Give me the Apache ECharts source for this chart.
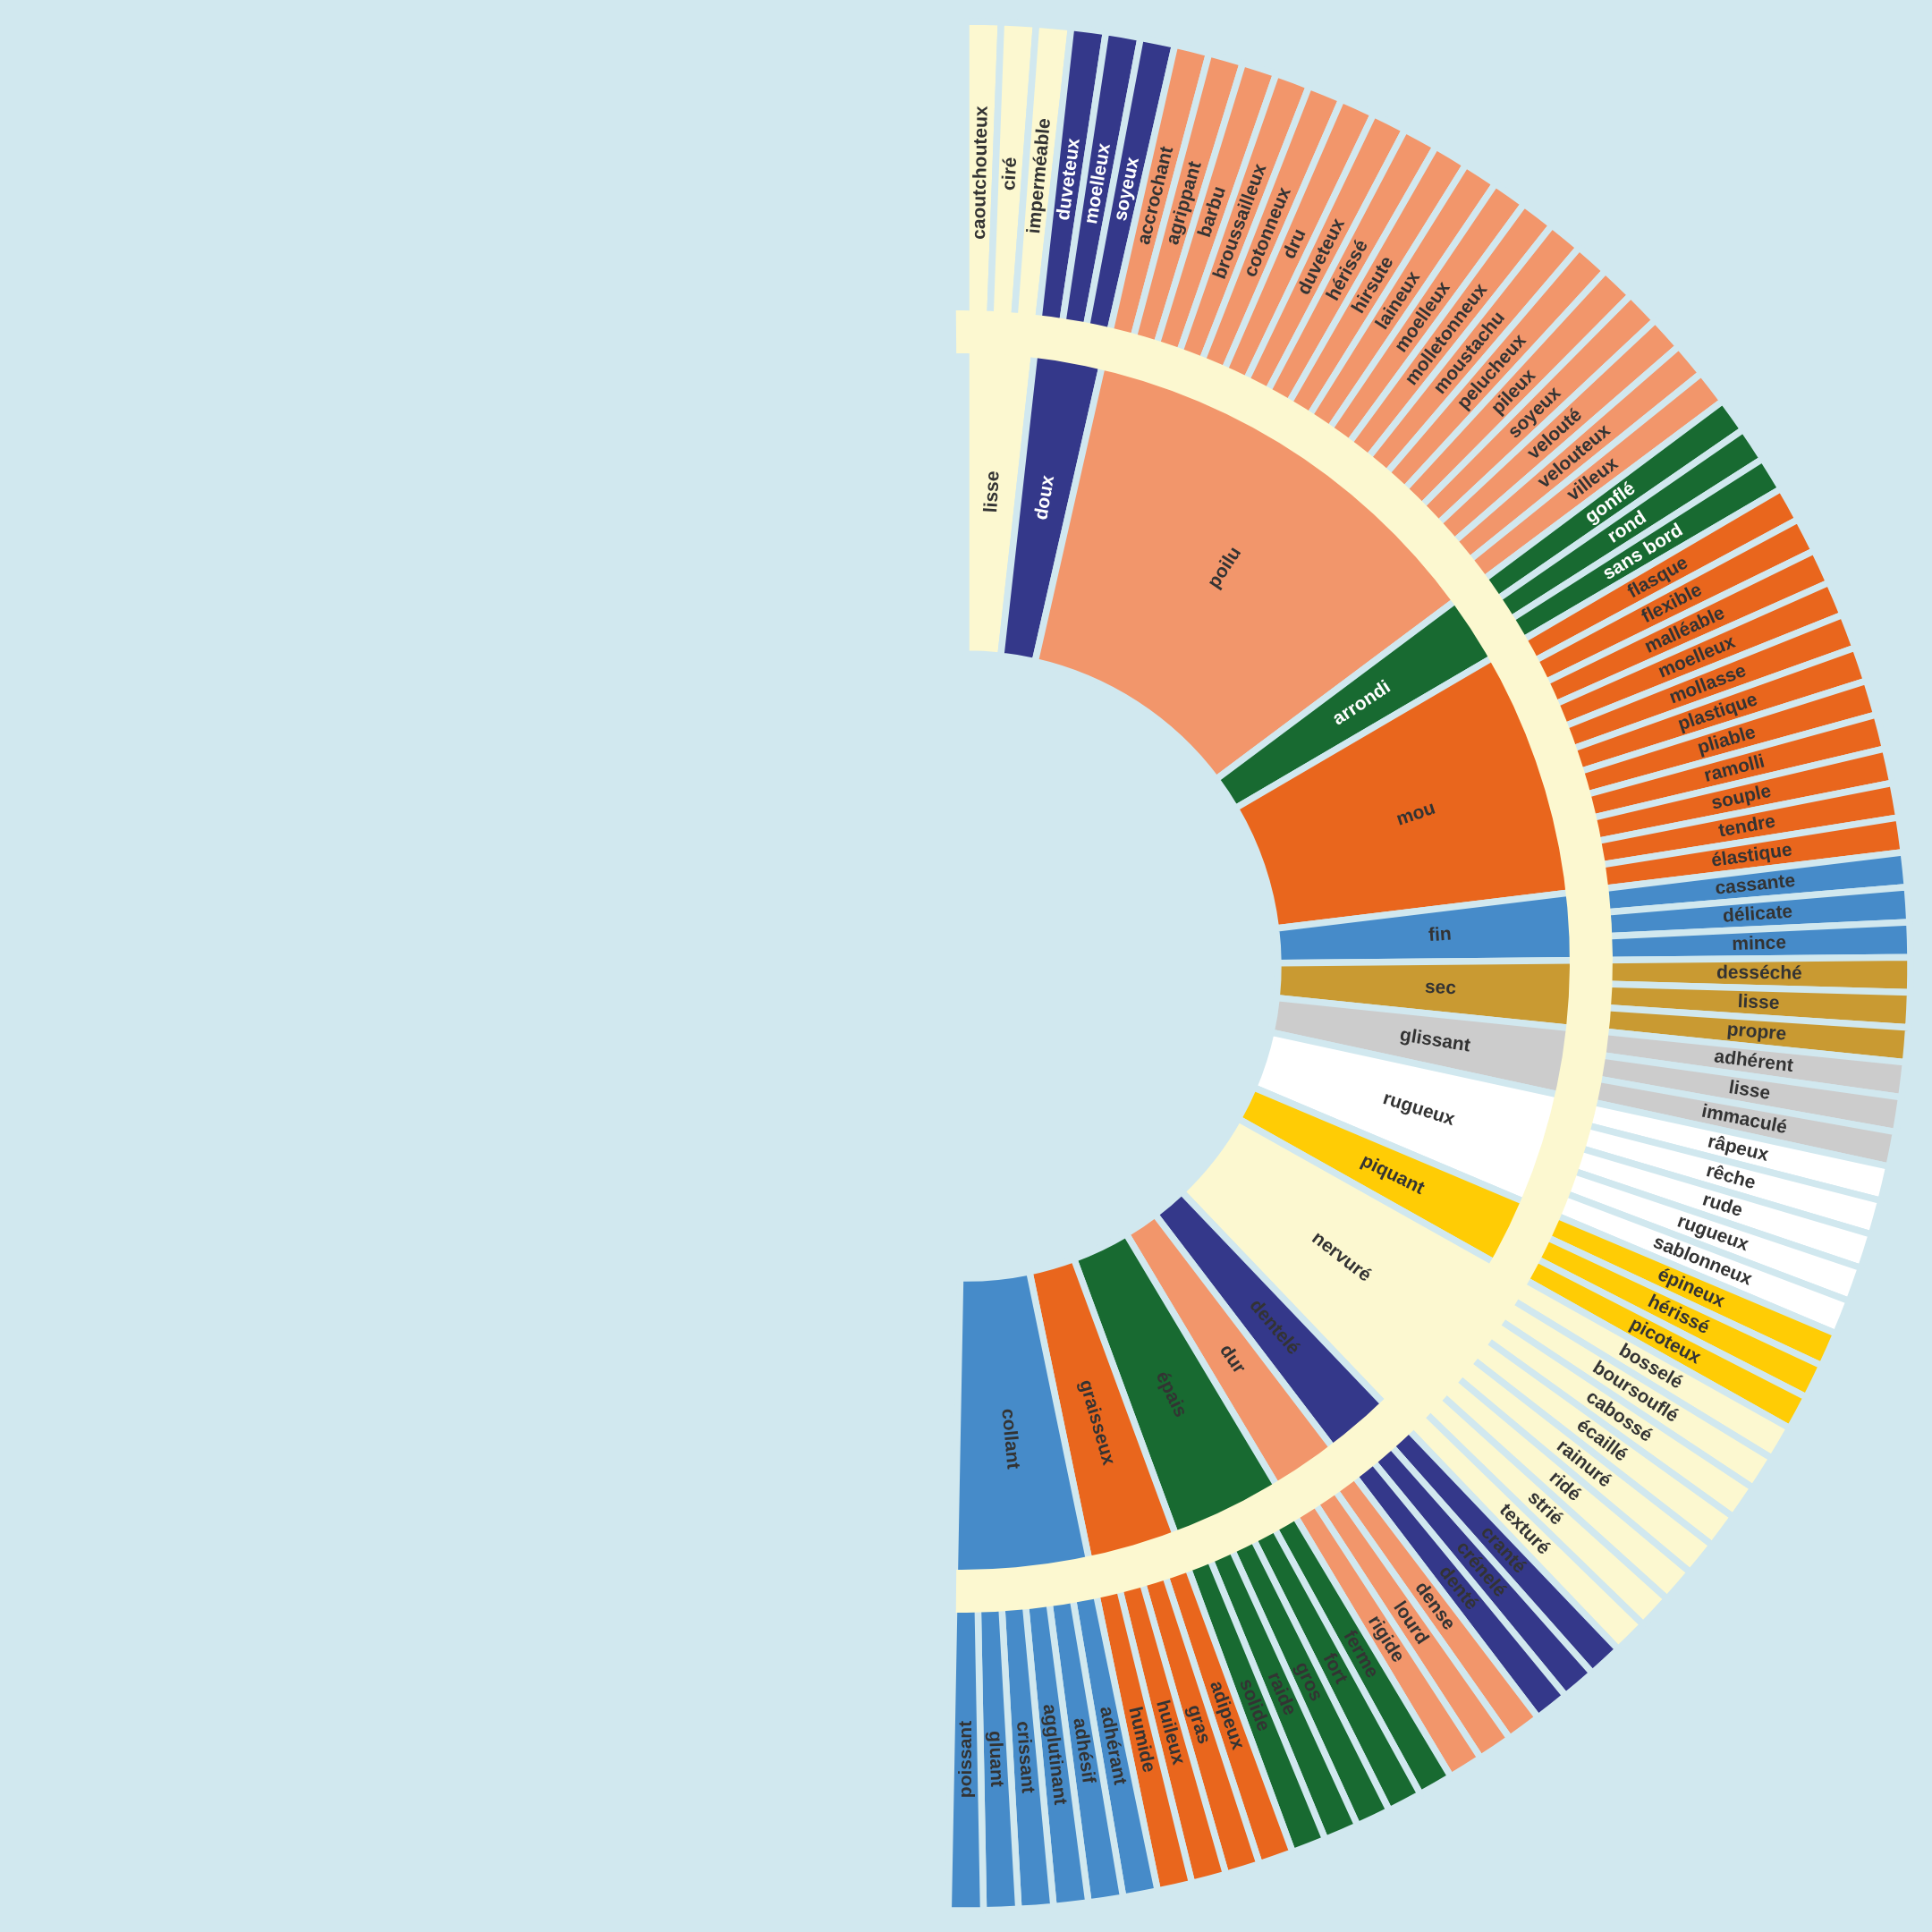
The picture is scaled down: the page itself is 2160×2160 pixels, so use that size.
<!DOCTYPE html>
<html>
<head>
<meta charset="utf-8">
<script src="https://cdn.jsdelivr.net/npm/echarts@6/dist/echarts.min.js"></script>
<style>
html,body{margin:0;padding:0;background:#D1E8EF;}
#chart{width:2160px;height:2160px;}
</style>
</head>
<body>
<div id="chart"></div>
<script>
// ---- data ----
const categories = ['lisse','doux','poilu','arrondi','mou','fin','sec','glissant','rugueux','piquant','nervuré','dentelé','dur','épais','graisseux','collant'];
const categoryValues = [3,3,19,3,11,3,3,3,5,3,8,3,3,5,4,6];

const lisseLeaves = ['caoutchouteux','ciré','imperméable'];
const douxLeaves = ['duveteux','moelleux','soyeux'];
const poiluLeaves = ['accrochant','agrippant','barbu','broussailleux','cotonneux','dru','duveteux','hérissé','hirsute','laineux','moelleux','molletonneux','moustachu','pelucheux','pileux','soyeux','velouté','velouteux','villeux'];
const arrondiLeaves = ['gonflé','rond','sans bord'];
const mouLeaves = ['flasque','flexible','malléable','moelleux','mollasse','plastique','pliable','ramolli','souple','tendre','élastique'];
const finLeaves = ['cassante','délicate','mince'];
const secLeaves = ['desséché','lisse','propre'];
const glissantLeaves = ['adhérent','lisse','immaculé'];
const rugueuxLeaves = ['râpeux','rêche','rude','rugueux','sablonneux'];
const piquantLeaves = ['épineux','hérissé','picoteux'];
const nervureLeaves = ['bosselé','boursouflé','cabossé','écaillé','rainuré','ridé','strié','texturé'];
const denteleLeaves = ['cranté','crénelé','denté'];
const durLeaves = ['dense','lourd','rigide'];
const epaisLeaves = ['ferme','fort','gros','raide','solide'];
const graisseuxLeaves = ['adipeux','gras','huileux','humide'];
const collantLeaves = ['adhérant','adhésif','agglutinant','crissant','gluant','poissant'];
const leafValue = 1;

const leavesByCategory = [lisseLeaves,douxLeaves,poiluLeaves,arrondiLeaves,mouLeaves,finLeaves,secLeaves,glissantLeaves,rugueuxLeaves,piquantLeaves,nervureLeaves,denteleLeaves,durLeaves,epaisLeaves,graisseuxLeaves,collantLeaves];

// ---- style ----
const BG = '#D1E8EF';
const CREAM = '#FCF8D0';
const categoryColors = [CREAM,'#34388A','#F2966B','#186A31','#E9661D','#468BC9','#C99A32','#CCCCCC','#FFFFFF','#FFCC05',CREAM,'#34388A','#F2966B','#186A31','#E9661D','#468BC9'];
const lightLabelCategories = ['doux','arrondi'];
const DARK = '#333333';
const FONT = 'Liberation Sans';

const START = 90;
const END = 90 - 181.07;

const innerData = categories.map((c, i) => ({
  name: c,
  value: categoryValues[i],
  itemStyle: { color: categoryColors[i] },
  label: { color: lightLabelCategories.includes(c) ? '#FFFFFF' : DARK }
}));

const outerData = [];
leavesByCategory.forEach((leaves, i) => {
  leaves.forEach(l => {
    outerData.push({
      name: l,
      value: leafValue,
      itemStyle: { color: categoryColors[i] },
      label: { color: lightLabelCategories.includes(categories[i]) ? '#FFFFFF' : DARK }
    });
  });
});

const commonLabel = {
  show: true,
  position: 'inside',
  rotate: 'radial',
  fontFamily: FONT,
  fontWeight: 'bold',
  fontSize: 21,
  formatter: '{b}'
};

const chart = echarts.init(document.getElementById('chart'), null, { renderer: 'canvas' });
chart.setOption({
  backgroundColor: BG,
  animation: false,
  series: [
    {
      type: 'pie',
      center: [1080, 1080],
      radius: [349, 707],
      startAngle: START,
      endAngle: END,
      clockwise: true,
      avoidLabelOverlap: false,
      silent: true,
      z: 2,
      itemStyle: { borderColor: BG, borderWidth: 7.5 },
      label: commonLabel,
      labelLine: { show: false },
      emphasis: { disabled: true },
      data: innerData
    },
    {
      type: 'pie',
      center: [1080, 1080],
      radius: [712, 1056],
      startAngle: START,
      endAngle: END,
      clockwise: true,
      avoidLabelOverlap: false,
      silent: true,
      z: 2,
      itemStyle: { borderColor: BG, borderWidth: 7.5 },
      label: commonLabel,
      labelLine: { show: false },
      emphasis: { disabled: true },
      data: outerData
    },
    {
      type: 'pie',
      center: [1075, 1075],
      radius: [680, 728],
      startAngle: 90.49,
      endAngle: -90.49,
      clockwise: true,
      silent: true,
      z: 5,
      itemStyle: { color: CREAM, borderWidth: 0 },
      label: { show: false },
      labelLine: { show: false },
      emphasis: { disabled: true },
      data: [{ name: '', value: 1 }]
    }
  ]
});
</script>
</body>
</html>
